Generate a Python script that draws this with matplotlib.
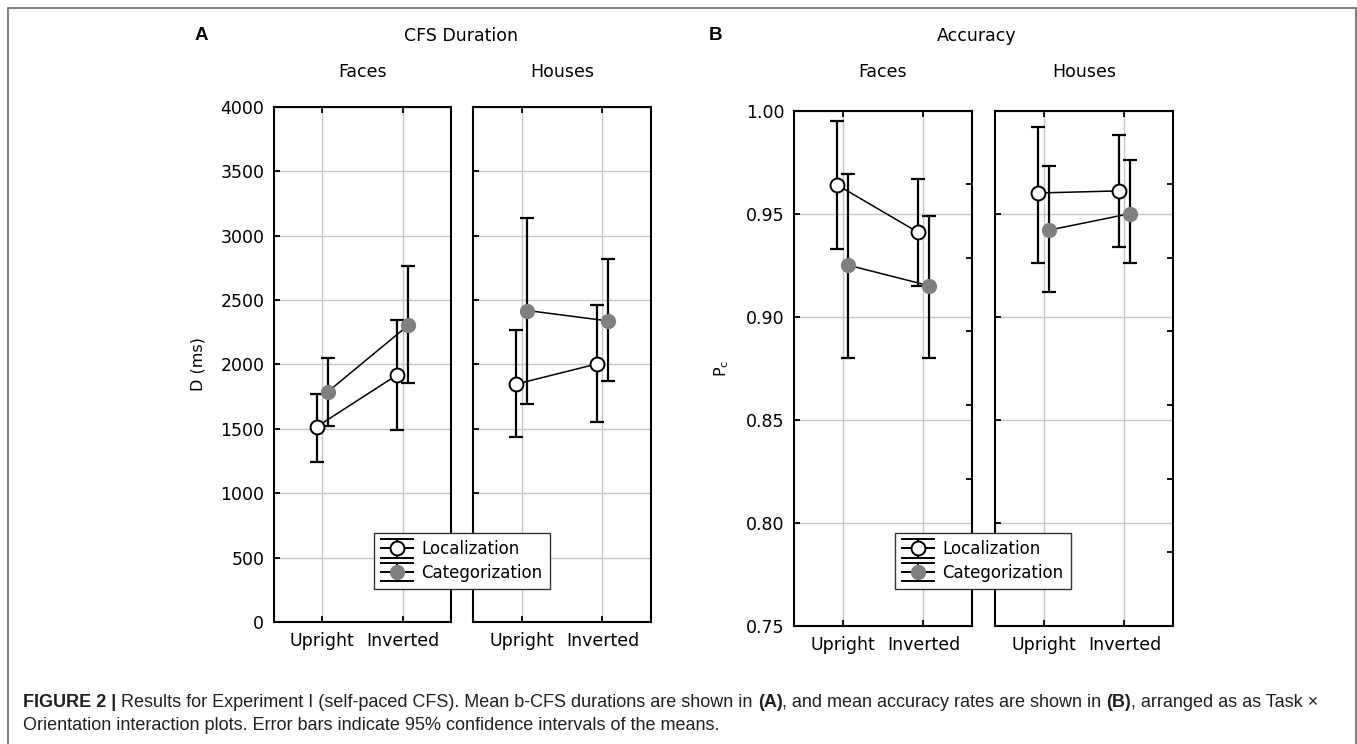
import numpy as np
import matplotlib
matplotlib.use('Agg')
import matplotlib.pyplot as plt
from matplotlib.lines import Line2D
from matplotlib.legend_handler import HandlerBase
from matplotlib.patches import Rectangle
from matplotlib.ticker import FixedLocator

# categories
orientations = ['Upright', 'Inverted']
tasks = ['Localization', 'Categorization']
stimuli = ['Faces', 'Houses']

# CFS duration (ms) -> [Upright, Inverted], mean and 95% CI bounds
dur_loc_faces = [1515, 1918]
dur_loc_faces_lo = [1245, 1490]
dur_loc_faces_hi = [1771, 2343]
dur_cat_faces = [1788, 2304]
dur_cat_faces_lo = [1523, 1853]
dur_cat_faces_hi = [2046, 2761]
dur_loc_houses = [1846, 2003]
dur_loc_houses_lo = [1435, 1549]
dur_loc_houses_hi = [2265, 2461]
dur_cat_houses = [2418, 2337]
dur_cat_houses_lo = [1696, 1869]
dur_cat_houses_hi = [3137, 2814]

# accuracy (Pc)
acc_loc_faces = [0.964, 0.941]
acc_loc_faces_lo = [0.933, 0.915]
acc_loc_faces_hi = [0.995, 0.967]
acc_cat_faces = [0.925, 0.915]
acc_cat_faces_lo = [0.880, 0.880]
acc_cat_faces_hi = [0.969, 0.949]
acc_loc_houses = [0.960, 0.961]
acc_loc_houses_lo = [0.926, 0.934]
acc_loc_houses_hi = [0.992, 0.988]
acc_cat_houses = [0.942, 0.950]
acc_cat_houses_lo = [0.912, 0.926]
acc_cat_houses_hi = [0.973, 0.976]

W, H = 1357, 744
GRAY = '#808080'
plt.rcParams['font.family'] = 'DejaVu Sans'

styles = {
    'Localization': dict(marker='o', ms=10, mfc='white', mec='black', mew=1.4),
    'Categorization': dict(marker='o', ms=10, mfc=GRAY, mec=GRAY, mew=1.0),
}
offsets = {'Localization': -0.07, 'Categorization': 0.07}

fig = plt.figure(figsize=(W / 100, H / 100), dpi=100)


def px_box(x0, x1, ytop, ybot):
    return [x0 / W, 1 - ybot / H, (x1 - x0) / W, (ybot - ytop) / H]


def draw_series(ax, mean, lo, hi, task):
    xs = np.arange(len(orientations)) + offsets[task]
    mean = np.asarray(mean, float)
    yerr = [mean - np.asarray(lo), np.asarray(hi) - mean]
    ax.plot(xs, mean, color='black', lw=1.1, zorder=3)
    ax.errorbar(xs, mean, yerr=yerr, fmt='none', ecolor='black',
                elinewidth=1.6, capsize=4.7, capthick=1.6, zorder=4)
    ax.plot(xs, mean, ls='none', zorder=5, **styles[task])


def style_axes(ax, ylim, yticks, show_labels, fmt):
    ax.set_xlim(-0.6, 1.6)
    ax.set_ylim(*ylim)
    ax.set_xticks(range(len(orientations)))
    ax.set_xticklabels(orientations)
    ax.set_yticks(yticks)
    if show_labels:
        ax.set_yticklabels([fmt.format(v) for v in yticks])
    else:
        ax.set_yticklabels([])
    ax.grid(True, color='#c6c6c6', lw=1.0)
    ax.set_axisbelow(True)
    for sp in ax.spines.values():
        sp.set_linewidth(1.5)
    ax.tick_params(which='major', direction='in', length=4, width=1.3,
                   top=True, bottom=True, left=True, right=False,
                   labelsize=12.5, pad=7)


dur_data = {
    'Faces': [(dur_loc_faces, dur_loc_faces_lo, dur_loc_faces_hi),
              (dur_cat_faces, dur_cat_faces_lo, dur_cat_faces_hi)],
    'Houses': [(dur_loc_houses, dur_loc_houses_lo, dur_loc_houses_hi),
               (dur_cat_houses, dur_cat_houses_lo, dur_cat_houses_hi)],
}
acc_data = {
    'Faces': [(acc_loc_faces, acc_loc_faces_lo, acc_loc_faces_hi),
              (acc_cat_faces, acc_cat_faces_lo, acc_cat_faces_hi)],
    'Houses': [(acc_loc_houses, acc_loc_houses_lo, acc_loc_houses_hi),
               (acc_cat_houses, acc_cat_houses_lo, acc_cat_houses_hi)],
}

a_boxes = [(274, 451), (473, 651)]
b_boxes = [(794, 972), (995, 1173)]

# panel A - CFS duration
for i, stim in enumerate(stimuli):
    x0, x1 = a_boxes[i]
    ax = fig.add_axes(px_box(x0, x1, 106.7, 622))
    for task, (m, lo, hi) in zip(tasks, dur_data[stim]):
        draw_series(ax, m, lo, hi, task)
    style_axes(ax, (0, 4000), np.arange(0, 4001, 500), i == 0, '{:.0f}')
    fig.text((x0 + x1) / 2 / W, 1 - 72 / H, stim, ha='center', va='center', fontsize=12.5)

# panel B - accuracy
for i, stim in enumerate(stimuli):
    x0, x1 = b_boxes[i]
    ax = fig.add_axes(px_box(x0, x1, 110.5, 626))
    for task, (m, lo, hi) in zip(tasks, acc_data[stim]):
        draw_series(ax, m, lo, hi, task)
    style_axes(ax, (0.75, 1.0), np.linspace(0.75, 1.0, 6), i == 0, '{:.2f}')
    # odd extra scale ticks on the right edge
    ax.yaxis.set_minor_locator(FixedLocator(0.75 + np.arange(1, 7) * 0.25 / 7))
    ax.tick_params(which='minor', direction='in', length=4, width=1.3,
                   left=False, right=True)
    fig.text((x0 + x1) / 2 / W, 1 - 72 / H, stim, ha='center', va='center', fontsize=12.5)

# headers / panel letters
fig.text(201 / W, 1 - 36 / H, 'A', ha='center', va='center', fontsize=13.5,
         fontweight='bold', family='Liberation Sans')
fig.text(716 / W, 1 - 36 / H, 'B', ha='center', va='center', fontsize=13.5,
         fontweight='bold', family='Liberation Sans')
fig.text(461 / W, 1 - 36 / H, 'CFS Duration', ha='center', va='center', fontsize=12.5)
fig.text(977 / W, 1 - 36 / H, 'Accuracy', ha='center', va='center', fontsize=12.5)
fig.text(198 / W, 1 - 364 / H, 'D (ms)', ha='center', va='center', rotation=90, fontsize=11.5)
fig.text(722 / W, 1 - 368 / H, r'P$_\mathregular{c}$', ha='center', va='center', rotation=90, fontsize=11.5)


# legend: errorbar-like glyph with caps spanning the handle
class CIHandler(HandlerBase):
    def create_artists(self, legend, orig_handle, xdescent, ydescent, width, height, fontsize, trans):
        xa, xb = -xdescent, width - xdescent
        cy = height / 2 - ydescent
        cx = (xa + xb) / 2
        h = 0.8 * height
        arts = []
        for xs, ys in [([xa, xb], [cy + h] * 2), ([xa, xb], [cy - h] * 2),
                       ([cx, cx], [cy - h, cy + h]), ([xa, xb], [cy, cy])]:
            arts.append(Line2D(xs, ys, color='black', lw=1.4, transform=trans))
        arts.append(Line2D([cx], [cy], ls='none', marker='o',
                           ms=orig_handle.get_markersize(),
                           mfc=orig_handle.get_markerfacecolor(),
                           mec=orig_handle.get_markeredgecolor(),
                           mew=orig_handle.get_markeredgewidth(),
                           transform=trans))
        return arts


handles = [Line2D([], [], ls='none', **styles[t]) for t in tasks]
for cx in (462, 983):
    leg = fig.legend(handles, tasks, loc='center', bbox_to_anchor=(cx / W, 1 - 561 / H),
                     handler_map={Line2D: CIHandler()}, fontsize=12, frameon=True,
                     fancybox=False, edgecolor='#333333', framealpha=1,
                     handlelength=1.9, handleheight=0.7, labelspacing=0.35,
                     borderpad=0.45, handletextpad=0.5, borderaxespad=0)
    leg.get_frame().set_linewidth(1.0)

# outer frame (open at bottom)
fig.patches.append(Rectangle((8 / W, -0.1), (1356 - 8) / W, 1.1 - 8 / H, transform=fig.transFigure,
                             fill=False, ec='#6a6a6a', lw=1.2, zorder=0))

# caption with bold runs
cap_font = 'Liberation Sans'
cap_color = '#231f20'
line1 = [('FIGURE 2 |', 'bold'),
         (' Results for Experiment I (self-paced CFS). Mean b-CFS durations are shown in ', 'normal'),
         ('(A)', 'bold'),
         (', and mean accuracy rates are shown in ', 'normal'),
         ('(B)', 'bold'),
         (', arranged as as Task \u00d7', 'normal')]
line2 = [('Orientation interaction plots. Error bars indicate 95% confidence intervals of the means.', 'normal')]

renderer = fig.canvas.get_renderer()


def run_width(parts, size):
    total = 0
    for s, w in parts:
        t = fig.text(0, 0, s, fontsize=size, fontweight=w, family=cap_font)
        total += t.get_window_extent(renderer).width
        t.remove()
    return total


cap_size = 11.0
cap_size *= 1293 / run_width(line1, cap_size)


def draw_run(parts, x_px, base_px):
    x = x_px
    for s, w in parts:
        t = fig.text(x / W, 1 - base_px / H, s, fontsize=cap_size, fontweight=w,
                     family=cap_font, color=cap_color, va='baseline', ha='left')
        x += t.get_window_extent(renderer).width


draw_run(line1, 23, 707)
draw_run(line2, 23, 730)

fig.savefig('out.png', dpi=100)
